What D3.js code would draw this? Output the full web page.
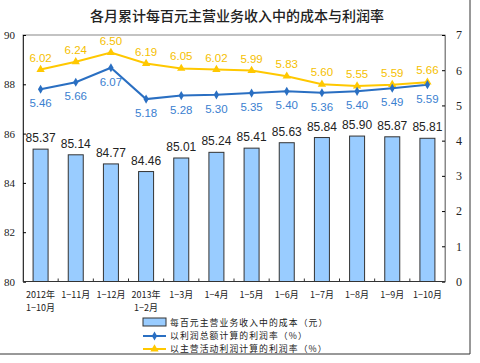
<!DOCTYPE html>
<html>
<head>
<meta charset="utf-8">
<script src="https://cdn.jsdelivr.net/npm/d3@7"></script>
<style>
  body { margin: 0; background: #fff; }
  svg { display: block; }
</style>
</head>
<body>
<svg id="chart" width="480" height="363"></svg>
<script>
// months (two-line labels)
var months = [["2012年", "1−10月"], ["1−11月"], ["1−12月"], ["2013年", "1−2月"], ["1−3月"], ["1−4月"],
  ["1−5月"], ["1−6月"], ["1−7月"], ["1−8月"], ["1−9月"], ["1−10月"]];
var costValues = [85.37, 85.14, 84.77, 84.46, 85.01, 85.24, 85.41, 85.63, 85.84, 85.90, 85.87, 85.81];
var profitTotal = [5.46, 5.66, 6.07, 5.18, 5.28, 5.30, 5.35, 5.40, 5.36, 5.40, 5.49, 5.59];
var profitMain = [6.02, 6.24, 6.50, 6.19, 6.05, 6.02, 5.99, 5.83, 5.60, 5.55, 5.59, 5.66];
var leftTicks = [80, 82, 84, 86, 88, 90];
var rightTicks = [0, 1, 2, 3, 4, 5, 6, 7];
var legendNames = ["每百元主营业务收入中的成本（元）", "以利润总额计算的利润率（%）", "以主营活动利润计算的利润率（%）"];

var svg = d3.select("#chart");
var plotL = 23, plotR = 445, plotT = 35, plotB = 281.5;
var blue = "#2a6fc2", gold = "#ffc800";
var cjk = "'Noto Sans CJK SC', sans-serif";

// outer frame (right & bottom visible)
svg.append("line").attr("x1", 470).attr("x2", 470).attr("y1", 0).attr("y2", 354).attr("stroke", "#333");
svg.append("line").attr("x1", 0).attr("x2", 470).attr("y1", 354).attr("y2", 354).attr("stroke", "#333");

svg.append("text").attr("x", 237).attr("y", 21).attr("text-anchor", "middle")
  .style("font-family", cjk).style("font-size", "14px").style("font-weight", "500").attr("fill", "#222")
  .text("各月累计每百元主营业务收入中的成本与利润率");

var x = d3.scaleBand().domain(d3.range(months.length)).range([plotL, plotR]);
var yL = d3.scaleLinear().domain([80, 90]).range([plotB, plotT]);
var yR = d3.scaleLinear().domain([0, 7]).range([plotB, plotT]);

// plot border
svg.append("rect").attr("x", plotL).attr("y", plotT).attr("width", plotR - plotL).attr("height", plotB - plotT)
  .attr("fill", "none").attr("stroke", "#888");

// bars
var barW = 15;
svg.selectAll(".bar").data(costValues).enter().append("rect")
  .attr("x", function(d, i) { return x(i) + x.bandwidth() / 2 - barW / 2; })
  .attr("y", function(d) { return yL(d); })
  .attr("width", barW)
  .attr("height", function(d) { return plotB - yL(d); })
  .attr("fill", "#99ccff").attr("stroke", "#333").attr("stroke-width", 1);

svg.selectAll(".barlab").data(costValues).enter().append("text")
  .attr("x", function(d, i) { return x(i) + x.bandwidth() / 2; })
  .attr("y", function(d) { return yL(d) - 7; })
  .attr("text-anchor", "middle").attr("fill", "#222")
  .style("font-family", "Arial, 'Liberation Sans', sans-serif").style("font-size", "12px")
  .text(function(d) { return d.toFixed(2); });

// lines
var line = d3.line()
  .x(function(d, i) { return x(i) + x.bandwidth() / 2; })
  .y(function(d) { return yR(d); });

svg.append("path").datum(profitMain).attr("d", line).attr("fill", "none").attr("stroke", gold).attr("stroke-width", 2);
svg.append("path").datum(profitTotal).attr("d", line).attr("fill", "none").attr("stroke", blue).attr("stroke-width", 2);

var tri = d3.symbol().type(d3.symbolTriangle).size(30);
var dia = d3.symbol().type(d3.symbolDiamond).size(24);

svg.selectAll(".mk2").data(profitMain).enter().append("path")
  .attr("d", tri)
  .attr("transform", function(d, i) { return "translate(" + (x(i) + x.bandwidth() / 2) + "," + yR(d) + ")"; })
  .attr("fill", gold);
svg.selectAll(".mk1").data(profitTotal).enter().append("path")
  .attr("d", dia)
  .attr("transform", function(d, i) { return "translate(" + (x(i) + x.bandwidth() / 2) + "," + yR(d) + ")"; })
  .attr("fill", blue);

svg.selectAll(".lab2").data(profitMain).enter().append("text")
  .attr("x", function(d, i) { return x(i) + x.bandwidth() / 2; })
  .attr("y", function(d) { return yR(d) - 8; })
  .attr("text-anchor", "middle").attr("fill", "#f5c000")
  .style("font-family", "Arial, 'Liberation Sans', sans-serif").style("font-size", "11.5px")
  .text(function(d) { return d.toFixed(2); });
svg.selectAll(".lab1").data(profitTotal).enter().append("text")
  .attr("x", function(d, i) { return x(i) + x.bandwidth() / 2; })
  .attr("y", function(d) { return yR(d) + 18; })
  .attr("text-anchor", "middle").attr("fill", "#3a80d0")
  .style("font-family", "Arial, 'Liberation Sans', sans-serif").style("font-size", "11.5px")
  .text(function(d) { return d.toFixed(2); });

// axes
var gL = svg.append("g").attr("transform", "translate(" + plotL + ",0)")
  .call(d3.axisLeft(yL).tickValues(leftTicks).tickSize(-3).tickPadding(8).tickFormat(d3.format("d")));
gL.select(".domain").attr("stroke", "#333");
gL.selectAll("text").style("font-family", "'Liberation Serif', serif").style("font-size", "11px").attr("fill", "#222");

var gR = svg.append("g").attr("transform", "translate(" + plotR + ",0)")
  .call(d3.axisRight(yR).tickValues(rightTicks).tickSize(-3).tickPadding(11).tickFormat(d3.format("d")));
gR.select(".domain").attr("stroke", "#888");
gR.selectAll("text").style("font-family", "'Liberation Serif', serif").style("font-size", "12px").attr("fill", "#222");

// bottom axis with inward ticks at boundaries
var bounds = d3.range(months.length + 1).map(function(i) { return plotL + i * x.bandwidth(); });
svg.append("line").attr("x1", plotL).attr("x2", plotR).attr("y1", plotB).attr("y2", plotB).attr("stroke", "#333");
svg.selectAll(".xt").data(bounds.slice(1, -1)).enter().append("line")
  .attr("x1", function(d) { return d; }).attr("x2", function(d) { return d; })
  .attr("y1", plotB).attr("y2", plotB - 3).attr("stroke", "#333");

var xl = svg.selectAll(".xl").data(months).enter().append("text")
  .attr("text-anchor", "middle").attr("fill", "#222")
  .style("font-family", cjk).style("font-size", "9px");
xl.selectAll("tspan").data(function(d, i) { return d.map(function(s) { return { s: s, i: i }; }); })
  .enter().append("tspan")
  .attr("x", function(d) { return x(d.i) + x.bandwidth() / 2; })
  .attr("y", function(d, j) { return 298 + j * 13; })
  .text(function(d) { return d.s; });

// legend
var lg = svg.append("g");
lg.append("rect").attr("x", 143).attr("y", 318).attr("width", 23).attr("height", 8)
  .attr("fill", "#99ccff").attr("stroke", "#333");
lg.append("line").attr("x1", 143).attr("x2", 166).attr("y1", 336).attr("y2", 336).attr("stroke", blue).attr("stroke-width", 2);
lg.append("path").attr("d", dia).attr("transform", "translate(154.5,336)").attr("fill", blue);
lg.append("line").attr("x1", 143).attr("x2", 166).attr("y1", 349).attr("y2", 349).attr("stroke", gold).attr("stroke-width", 2);
lg.append("path").attr("d", tri).attr("transform", "translate(154.5,349)").attr("fill", gold);
lg.selectAll(".lt").data(legendNames).enter().append("text")
  .attr("x", 170).attr("y", function(d, i) { return 326 + i * 13; })
  .attr("fill", "#222").style("font-family", cjk).style("font-size", "8.8px").style("letter-spacing", "1.1px")
  .text(function(d) { return d; });
</script>
</body>
</html>
